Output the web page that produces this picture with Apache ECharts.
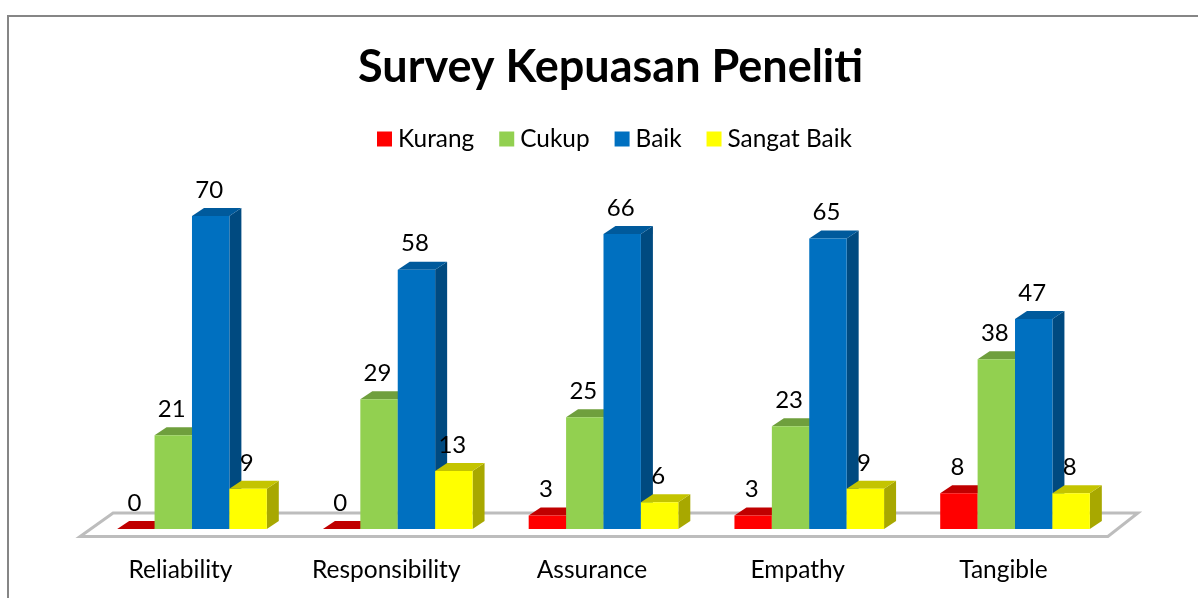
<!DOCTYPE html>
<html>
<head>
<meta charset="utf-8">
<style>html,body{margin:0;padding:0;background:#fff}#c{width:1198px;height:598px}</style>
<script src="https://cdn.jsdelivr.net/npm/echarts@6/dist/echarts.min.js"></script>
</head>
<body>
<div id="c"></div>
<script>
const categories = ['Reliability', 'Responsibility', 'Assurance', 'Empathy', 'Tangible'];
const kurang = [0, 0, 3, 3, 8];
const cukup = [21, 29, 25, 23, 38];
const baik = [70, 58, 66, 65, 47];
const sangatBaik = [9, 13, 6, 9, 8];

const FONT = 'Lato';
const DX = 12, DY = -8;

const palette = {
  Kurang: { front: '#ff0000', top: '#c00000', side: '#a80000' },
  Cukup: { front: '#92d050', top: '#6f9f3d', side: '#5f8a34' },
  Baik: { front: '#0070c0', top: '#005a9c', side: '#004a80' },
  'Sangat Baik': { front: '#ffff00', top: '#c4c400', side: '#a8a800' }
};

function barSeries(name, values, slot) {
  const c = palette[name];
  return {
    type: 'custom',
    name: name,
    itemStyle: { color: c.front },
    encode: { x: 0, y: 1 },
    data: values.map((v, i) => [i, v]),
    z: 3 + slot,
    renderItem(params, api) {
      const w = api.size([1, 0])[0] * 0.1818;
      const topPt = api.coord([api.value(0), api.value(1)]);
      const basePt = api.coord([api.value(0), 0]);
      const x = topPt[0] + (slot - 2) * w;
      const yt = topPt[1], yb = basePt[1];
      return {
        type: 'group',
        children: [
          { type: 'polygon', shape: { points: [[x + w, yb], [x + w + DX, yb + DY], [x + w + DX, yt + DY], [x + w, yt]] }, style: { fill: c.side } },
          { type: 'polygon', shape: { points: [[x, yt], [x + DX, yt + DY], [x + w + DX, yt + DY], [x + w, yt]] }, style: { fill: c.top } },
          { type: 'rect', shape: { x: x, y: yt, width: w, height: yb - yt }, style: { fill: c.front } },
          { type: 'text', style: { text: String(api.value(1)), x: x + w / 2 - 1.5, y: yt - 26, align: 'center', verticalAlign: 'middle', fill: '#000', font: '24px ' + FONT } }
        ]
      };
    }
  };
}

const floorSeries = {
  type: 'custom',
  name: 'floor',
  silent: true,
  z: 1,
  data: [[0, 0]],
  encode: { x: 0, y: 1 },
  renderItem(params) {
    const g = params.coordSys;
    const y0 = g.y + g.height;
    return {
      type: 'polygon',
      shape: { points: [[g.x - 9, y0 + 7.5], [g.x + g.width - 10, y0 + 7.5], [g.x + g.width + 20, y0 - 16], [g.x + 24, y0 - 16]] },
      style: { fill: '#fff', stroke: '#bdbdbd', lineWidth: 3 }
    };
  }
};

const chart = echarts.init(document.getElementById('c'), null, { renderer: 'canvas', width: 1198, height: 598 });
chart.setOption({
  animation: false,
  backgroundColor: '#fff',
  title: {
    text: 'Survey Kepuasan Peneliti',
    left: 353, top: 40,
    textStyle: { fontFamily: FONT, fontSize: 45, fontWeight: 'bold', color: '#000' }
  },
  legend: {
    data: ['Kurang', 'Cukup', 'Baik', 'Sangat Baik'],
    left: 372, top: 122,
    icon: 'rect',
    itemWidth: 15, itemHeight: 15, itemGap: 25,
    textStyle: { fontFamily: FONT, fontSize: 24.4, color: '#000', padding: [0, 0, 0, 1] }
  },
  grid: { left: 89.1, width: 1028.8, top: 171.4, height: 357.6 },
  xAxis: {
    type: 'category',
    data: categories,
    axisLine: { show: false },
    axisTick: { show: false },
    axisLabel: { fontFamily: FONT, fontSize: 24.5, color: '#000', margin: 29, padding: [0, 23, 0, 0] }
  },
  yAxis: { type: 'value', min: 0, max: 80, interval: 20, show: false },
  graphic: [{
    type: 'polyline',
    silent: true,
    shape: { points: [[8, 598], [8, 16], [1198, 16]] },
    style: { stroke: '#868686', lineWidth: 2, fill: null }
  }],
  series: [
    floorSeries,
    barSeries('Kurang', kurang, 0),
    barSeries('Cukup', cukup, 1),
    barSeries('Baik', baik, 2),
    barSeries('Sangat Baik', sangatBaik, 3)
  ]
});
</script>
</body>
</html>
